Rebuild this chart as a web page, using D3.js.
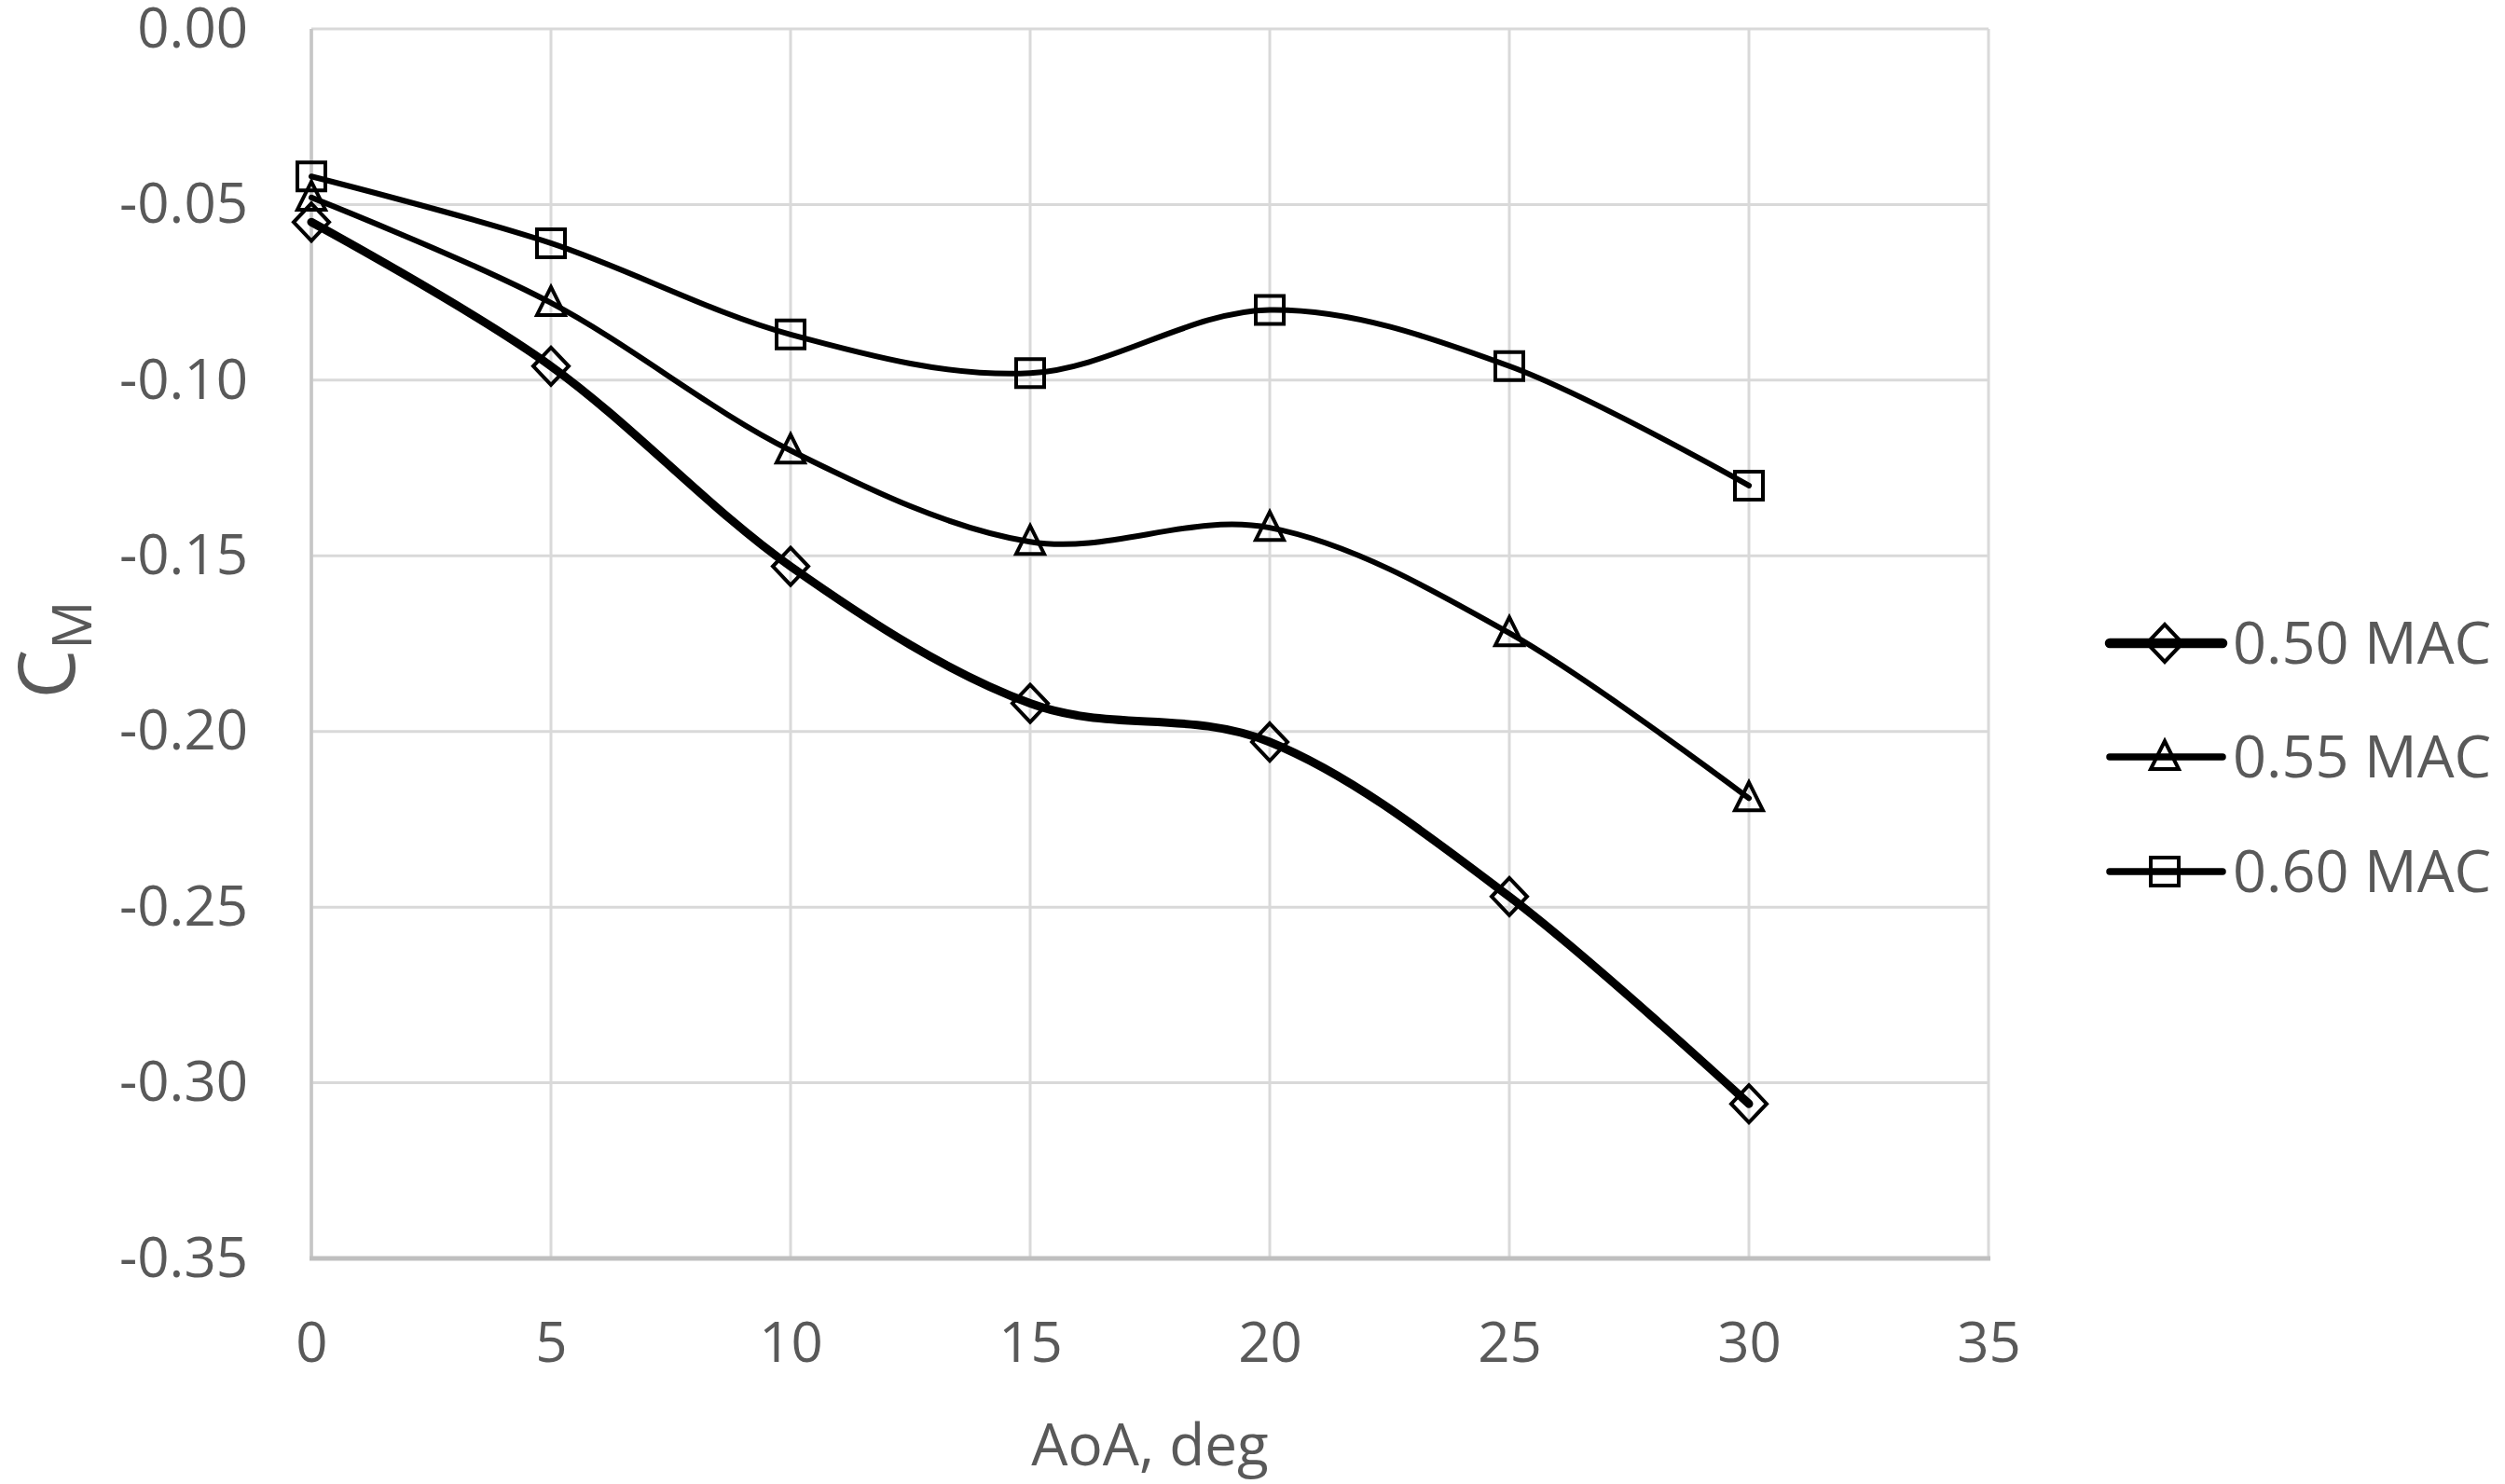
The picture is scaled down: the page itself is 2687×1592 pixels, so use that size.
<!DOCTYPE html>
<html>
<head>
<meta charset="utf-8">
<script src="https://cdn.jsdelivr.net/npm/d3@7"></script>
<style>
  html, body { margin: 0; padding: 0; background: #fff; }
  svg { display: block; font-family: "Open Sans", "Noto Sans", sans-serif; }
</style>
</head>
<body>
<svg id="chart" width="2687" height="1592"></svg>
<script>
// ---- data ----
const aoa = [0, 5, 10, 15, 20, 25, 30];
const seriesNames = ["0.50 MAC", "0.55 MAC", "0.60 MAC"];
const cm050 = [-0.055, -0.096, -0.153, -0.192, -0.203, -0.247, -0.306];
const cm055 = [-0.048, -0.078, -0.120, -0.146, -0.142, -0.172, -0.219];
const cm060 = [-0.042, -0.061, -0.087, -0.098, -0.080, -0.096, -0.130];
const xTicks = [0, 5, 10, 15, 20, 25, 30, 35];
const yTicks = [0, -0.05, -0.10, -0.15, -0.20, -0.25, -0.30, -0.35];
const yTickLabels = ["0.00", "-0.05", "-0.10", "-0.15", "-0.20", "-0.25", "-0.30", "-0.35"];
const xTitle = "AoA, deg";

const series = [
  { name: seriesNames[0], values: cm050, marker: "diamond", width: 9 },
  { name: seriesNames[1], values: cm055, marker: "triangle", width: 6 },
  { name: seriesNames[2], values: cm060, marker: "square", width: 6 }
];

// ---- layout ----
const svg = d3.select("#chart");
const plot = { left: 334, right: 2133, top: 31, bottom: 1350 };
const x = d3.scaleLinear().domain([0, 35]).range([plot.left, plot.right]);
const y = d3.scaleLinear().domain([-0.35, 0]).range([plot.bottom, plot.top]);
const textColor = "#595959";

// gridlines
const grid = svg.append("g");
grid.selectAll("line.h").data(yTicks).join("line")
  .attr("x1", plot.left).attr("x2", plot.right)
  .attr("y1", d => y(d)).attr("y2", d => y(d))
  .attr("stroke", "#d9d9d9").attr("stroke-width", 3);
grid.selectAll("line.v").data(xTicks).join("line")
  .attr("x1", d => x(d)).attr("x2", d => x(d))
  .attr("y1", plot.top).attr("y2", plot.bottom)
  .attr("stroke", "#d9d9d9").attr("stroke-width", 3);

// axes lines
svg.append("line").attr("x1", x(0)).attr("x2", x(0))
  .attr("y1", plot.top).attr("y2", plot.bottom)
  .attr("stroke", "#c6c6c6").attr("stroke-width", 3.5);
svg.append("line").attr("x1", plot.left - 2).attr("x2", plot.right + 2)
  .attr("y1", y(-0.35)).attr("y2", y(-0.35))
  .attr("stroke", "#bfbfbf").attr("stroke-width", 5);

// tick labels via d3 axes
const yAxis = svg.append("g").attr("transform", `translate(${plot.left},0)`)
  .call(d3.axisLeft(y).tickValues(yTicks)
    .tickFormat((d, i) => yTickLabels[i]).tickSize(0).tickPadding(68));
const xAxis = svg.append("g").attr("transform", `translate(0,${plot.bottom})`)
  .call(d3.axisBottom(x).tickValues(xTicks).tickFormat(d3.format("d")).tickSize(0).tickPadding(68));
[yAxis, xAxis].forEach(a => {
  a.select(".domain").remove();
  a.selectAll("text").attr("fill", textColor).attr("font-size", 60)
    .attr("font-family", "'Open Sans', 'Noto Sans', sans-serif");
});

// axis titles
svg.append("text").attr("x", (plot.left + plot.right) / 2).attr("y", 1572)
  .attr("text-anchor", "middle").attr("font-size", 62).attr("fill", textColor)
  .text(xTitle);
const yt = svg.append("text")
  .attr("transform", "translate(80,697) rotate(-90)")
  .attr("text-anchor", "middle").attr("fill", textColor);
yt.append("tspan").attr("font-size", 84).text("C");
yt.append("tspan").attr("font-size", 58).attr("dy", 18).text("M");

// markers
function markerPath(type) {
  if (type === "diamond") return "M0,-20 L19,0 L0,20 L-19,0 Z";
  if (type === "triangle") return "M0,-17 L15,13 L-15,13 Z";
  return "M-15,-15 L15,-15 L15,15 L-15,15 Z";
}

const line = d3.line()
  .x((d, i) => x(aoa[i]))
  .y(d => y(d))
  .curve(d3.curveCardinal.tension(0));

const sg = svg.selectAll("g.series").data(series).join("g").attr("class", "series");
sg.append("path")
  .attr("d", d => line(d.values))
  .attr("fill", "none").attr("stroke", "#000")
  .attr("stroke-width", d => d.width)
  .attr("stroke-linejoin", "round").attr("stroke-linecap", "round");
sg.each(function (s) {
  d3.select(this).selectAll("path.m").data(s.values).join("path")
    .attr("class", "m")
    .attr("transform", (d, i) => `translate(${x(aoa[i])},${y(d)})`)
    .attr("d", markerPath(s.marker))
    .attr("fill", "none").attr("stroke", "#000").attr("stroke-width", 4);
});

// legend
const legendY = [690, 812, 935];
const lg = svg.selectAll("g.legend").data(series).join("g").attr("class", "legend")
  .attr("transform", (d, i) => `translate(0,${legendY[i]})`);
lg.append("line").attr("x1", 2263).attr("x2", 2384).attr("y1", 0).attr("y2", 0)
  .attr("stroke", "#000").attr("stroke-width", d => d.width + 1.5).attr("stroke-linecap", "round");
lg.append("path").attr("transform", "translate(2322,0)")
  .attr("d", d => markerPath(d.marker))
  .attr("fill", "none").attr("stroke", "#000").attr("stroke-width", 4);
lg.append("text").attr("x", 2395).attr("y", 22)
  .attr("font-size", 63).attr("fill", textColor)
  .text(d => d.name);
</script>
</body>
</html>
